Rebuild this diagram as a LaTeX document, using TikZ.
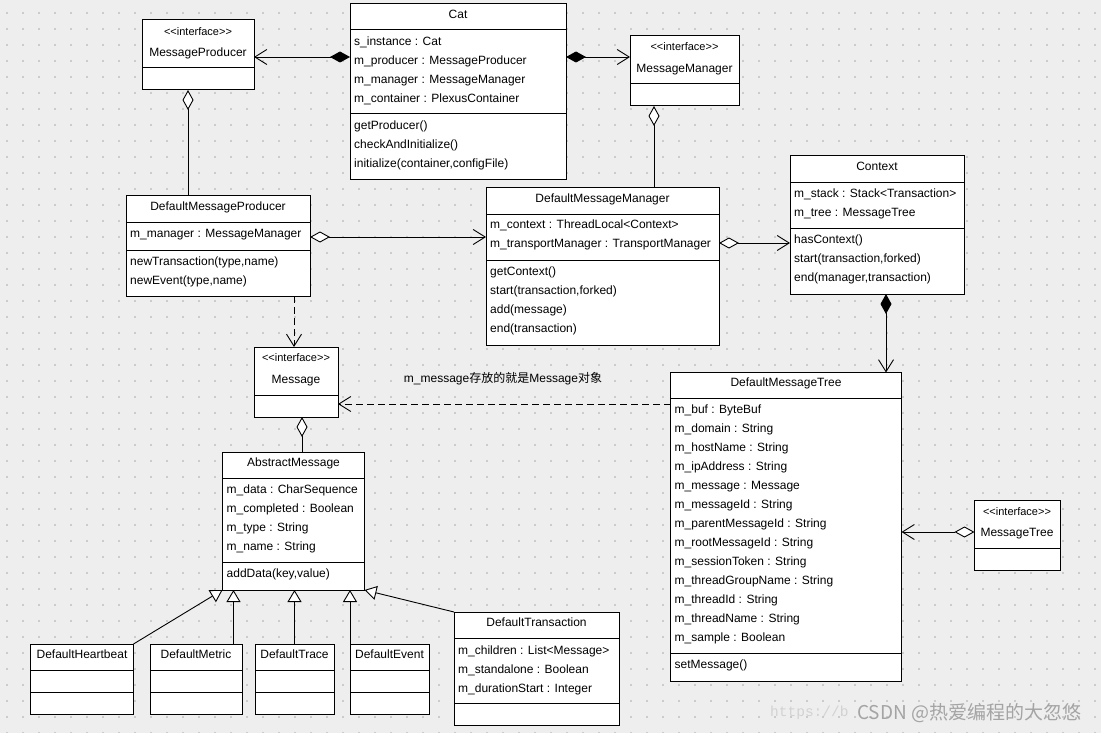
\documentclass[tikz,border=0pt]{standalone}
\usepackage{fontspec}
\setmainfont{Liberation Sans}
\newfontfamily\cjk{Noto Sans CJK SC}
\newfontfamily\wmono{Liberation Mono}
\usetikzlibrary{arrows.meta}
\definecolor{bgc}{HTML}{EEEEEE}
\definecolor{dotc}{HTML}{CBCBCB}
\definecolor{wmc}{HTML}{A4A4A4}
\definecolor{wmc2}{HTML}{D2D2D2}
\newcommand\stereotxt{<{}<interface>{}>}
\tikzset{
  umlbox/.style={draw=black, fill=white, line width=1pt, inner sep=0pt, outer sep=0pt, anchor=north west},
  divl/.style={line width=1pt},
  attr/.style={anchor=base west, inner sep=0pt, yshift=-4.5pt, font=\fontsize{12}{14}\selectfont},
  cname/.style={anchor=base, inner sep=0pt, yshift=-4.5pt, font=\fontsize{12}{14}\selectfont},
  stereo/.style={anchor=base, inner sep=0pt, yshift=-4pt, font=\fontsize{11}{13}\selectfont},
  conn/.style={line width=0.9pt, draw=black},
  dsh/.style={dash pattern=on 7pt off 4pt},
  obarb/.tip={Straight Barb[length=12pt,width=15pt]},
  fdia/.tip={Diamond[length=20pt,width=11pt,fill=black]},
  odia/.tip={Diamond[length=20pt,width=11pt,fill=white]},
  otri/.tip={Triangle[length=12pt,width=14pt,fill=white]},
}
\newcommand\umlcls[5]{\node[umlbox, minimum width={#4-#2}, minimum height={#5-#3}] (#1) at (#2,#3) {};}
\newcommand\hdiv[2]{\draw[divl] (#1.west |- 0,#2) -- (#1.east |- 0,#2);}
\begin{document}
\begin{tikzpicture}[x=1pt, y=-1pt]
\useasboundingbox (0,0) rectangle (1101,733);
\fill[bgc] (0,0) rectangle (1101,733);
\foreach \i in {0,...,68}{
  \foreach \j in {0,...,45}{
    \fill[dotc] (6+16*\i, 12+16*\j) rectangle +(2,2);
  }
}

% ---------- MessageProducer (interface)
\umlcls{mp}{142}{20}{254}{90}
\hdiv{mp}{68}
\node[stereo] (mp-s) at (198,32) {\stereotxt};
\node[cname] (mp-n) at (198,52) {MessageProducer};

% ---------- Cat
\umlcls{cat}{350}{4}{566}{180}
\hdiv{cat}{30}
\hdiv{cat}{114}
\node[cname] (cat-n) at (458,14) {Cat};
\node[attr] (cat-a1) at (354,41) {s\_instance : Cat};
\node[attr] (cat-a2) at (354,60) {m\_producer : MessageProducer};
\node[attr] (cat-a3) at (354,79) {m\_manager : MessageManager};
\node[attr] (cat-a4) at (354,98) {m\_container : PlexusContainer};
\node[attr] (cat-m1) at (354,125) {getProducer()};
\node[attr] (cat-m2) at (354,144) {checkAndInitialize()};
\node[attr] (cat-m3) at (354,163) {initialize(container,configFile)};

% ---------- MessageManager (interface)
\umlcls{mm}{630}{36}{739}{106}
\hdiv{mm}{84}
\node[stereo] (mm-s) at (684.5,47) {\stereotxt};
\node[cname] (mm-n) at (684.5,68) {MessageManager};

% ---------- DefaultMessageProducer
\umlcls{dmp}{126}{196}{310}{296}
\hdiv{dmp}{222}
\hdiv{dmp}{250}
\node[cname] (dmp-n) at (218,206) {DefaultMessageProducer};
\node[attr] (dmp-a1) at (130,233) {m\_manager : MessageManager};
\node[attr] (dmp-m1) at (130,261) {newTransaction(type,name)};
\node[attr] (dmp-m2) at (130,280) {newEvent(type,name)};

% ---------- DefaultMessageManager
\umlcls{dmm}{486}{188}{719}{345}
\hdiv{dmm}{214}
\hdiv{dmm}{260}
\node[cname] (dmm-n) at (602.5,198) {DefaultMessageManager};
\node[attr] (dmm-a1) at (490,224) {m\_context : ThreadLocal<Context>};
\node[attr] (dmm-a2) at (490,243) {m\_transportManager : TransportManager};
\node[attr] (dmm-m1) at (490,271) {getContext()};
\node[attr] (dmm-m2) at (490,290) {start(transaction,forked)};
\node[attr] (dmm-m3) at (490,309) {add(message)};
\node[attr] (dmm-m4) at (490,328) {end(transaction)};

% ---------- Context
\umlcls{ctx}{790}{156}{964}{294}
\hdiv{ctx}{182.5}
\hdiv{ctx}{228.5}
\node[cname] (ctx-n) at (877,166) {Context};
\node[attr] (ctx-a1) at (794,193) {m\_stack : Stack<Transaction>};
\node[attr] (ctx-a2) at (794,212) {m\_tree : MessageTree};
\node[attr] (ctx-m1) at (794,239) {hasContext()};
\node[attr] (ctx-m2) at (794,258) {start(transaction,forked)};
\node[attr] (ctx-m3) at (794,277) {end(manager,transaction)};

% ---------- Message (interface)
\umlcls{msg}{254}{347}{338}{417}
\hdiv{msg}{395}
\node[stereo] (msg-s) at (296,357) {\stereotxt};
\node[cname] (msg-n) at (296,379) {Message};

% ---------- AbstractMessage
\umlcls{am}{222.5}{452.5}{364.5}{590}
\hdiv{am}{478}
\hdiv{am}{562}
\node[cname] (am-n) at (293.5,462) {AbstractMessage};
\node[attr] (am-a1) at (226.5,489) {m\_data : CharSequence};
\node[attr] (am-a2) at (226.5,508) {m\_completed : Boolean};
\node[attr] (am-a3) at (226.5,527) {m\_type : String};
\node[attr] (am-a4) at (226.5,546) {m\_name : String};
\node[attr] (am-m1) at (226.5,573) {addData(key,value)};

% ---------- DefaultMessageTree
\umlcls{dmt}{670.5}{372.5}{901.5}{681}
\hdiv{dmt}{398.5}
\hdiv{dmt}{653.5}
\node[cname] (dmt-n) at (786,382) {DefaultMessageTree};
\foreach \t [count=\k from 0] in {m\_buf : ByteBuf, m\_domain : String, m\_hostName : String, m\_ipAddress : String, m\_message : Message, m\_messageId : String, m\_parentMessageId : String, m\_rootMessageId : String, m\_sessionToken : String, m\_threadGroupName : String, m\_threadId : String, m\_threadName : String, m\_sample : Boolean}{
  \node[attr] (dmt-a\k) at (674.5,409+19*\k) {\t};
}
\node[attr] (dmt-m1) at (674.5,664) {setMessage()};

% ---------- MessageTree (interface)
\umlcls{mt}{974.5}{500.5}{1060}{570}
\hdiv{mt}{548.5}
\node[stereo] (mt-s) at (1017,511) {\stereotxt};
\node[cname] (mt-n) at (1017,532) {MessageTree};

% ---------- subclasses
\umlcls{hb}{30.5}{644}{133.5}{714.5}
\hdiv{hb}{670}
\hdiv{hb}{692}
\node[cname] (hb-n) at (82,654) {DefaultHeartbeat};
\umlcls{met}{150.5}{644}{242}{714.5}
\hdiv{met}{670}
\hdiv{met}{692}
\node[cname] (met-n) at (196,654) {DefaultMetric};
\umlcls{tr}{255}{644}{334}{714.5}
\hdiv{tr}{670}
\hdiv{tr}{692}
\node[cname] (tr-n) at (294.5,654) {DefaultTrace};
\umlcls{ev}{350}{644}{429}{714.5}
\hdiv{ev}{670}
\hdiv{ev}{692}
\node[cname] (ev-n) at (389.5,654) {DefaultEvent};
\umlcls{tx}{454}{612}{619}{725}
\hdiv{tx}{638}
\hdiv{tx}{703.5}
\node[cname] (tx-n) at (536.5,622) {DefaultTransaction};
\node[attr] (tx-a1) at (458,650) {m\_children : List<Message>};
\node[attr] (tx-a2) at (458,669) {m\_standalone : Boolean};
\node[attr] (tx-a3) at (458,688) {m\_durationStart : Integer};

% ---------- label
\node[anchor=center, inner sep=0pt, font=\fontsize{12}{14}\selectfont] (note) at (503,379) {m\_message{\cjk 存放的就是}Message{\cjk 对象}};

% ---------- connectors
\draw[conn, fdia-obarb] (cat.west |- 0,57) -- (mp.east |- 0,57);
\draw[conn, fdia-obarb] (cat.east |- 0,57) -- (mm.west |- 0,57);
\draw[conn, odia-] (mp.south -| 188,0) -- (dmp.north -| 188,0);
\draw[conn, odia-] (mm.south -| 654,0) -- (dmm.north -| 654,0);
\draw[conn, odia-obarb] (dmp.east |- 0,237) -- (dmm.west |- 0,237);
\draw[conn, odia-obarb] (dmm.east |- 0,243) -- (ctx.west |- 0,243);
\draw[conn, fdia-obarb] (ctx.south -| 886,0) -- (dmt.north -| 886,0);
\draw[conn, dsh, -obarb] (dmp.south -| 294,0) -- (msg.north -| 294,0);
\draw[conn, dsh, -obarb] (dmt.west |- 0,404) -- (msg.east |- 0,404);
\draw[conn, odia-] (msg.south -| 302,0) -- (am.north -| 302,0);
\draw[conn, odia-obarb] (mt.west |- 0,532) -- (dmt.east |- 0,532);
\draw[conn, -otri] (hb.north east) -- (am.south west);
\draw[conn, -otri] (met.north -| 233.5,0) -- (am.south -| 233.5,0);
\draw[conn, -otri] (tr.north -| 294.5,0) -- (am.south -| 294.5,0);
\draw[conn, -otri] (ev.north west) -- (am.south -| ev.north west);
\draw[conn, -otri] (tx.north west) -- (am.south east);

% ---------- watermark
\node[anchor=west, inner sep=0pt, text=wmc2, font=\wmono\fontsize{14.5}{16}\selectfont] (wmu) at (770,713) {https://b};
\node[anchor=west, inner sep=0pt, text=wmc, font=\cjk\fontsize{19}{19}\selectfont] (wm) at (857,713) {CSDN @热爱编程的大忽悠};
\end{tikzpicture}
\end{document}
